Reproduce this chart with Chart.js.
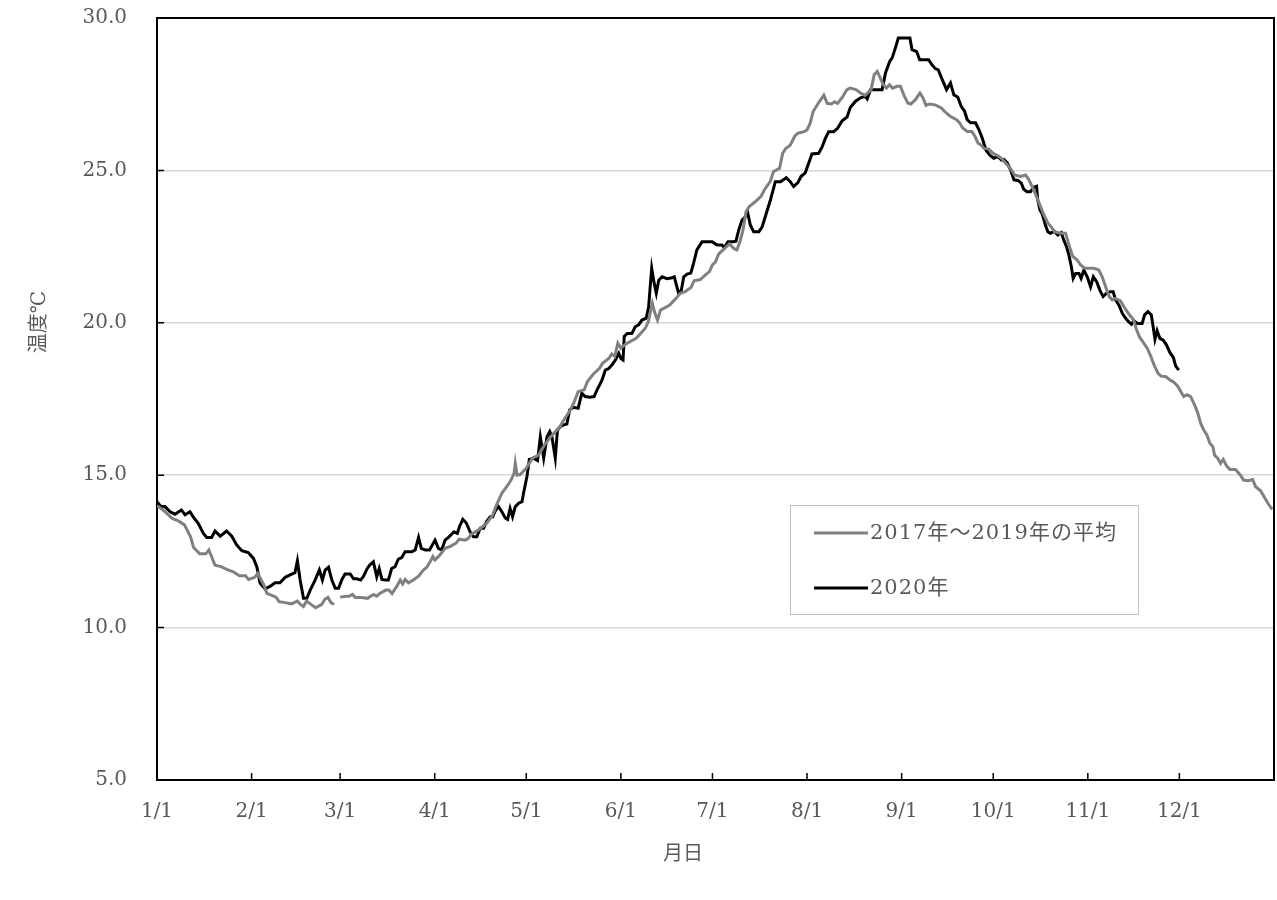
<!DOCTYPE html>
<html>
<head>
<meta charset="utf-8">
<script src="https://cdn.jsdelivr.net/npm/chart.js@4.4.1/dist/chart.umd.min.js"></script>
<style>
    body { margin: 0; background: #fff; }
    #wrap { width: 1277px; height: 900px; position: relative; }
</style>
</head>
<body>
<div id="wrap"><canvas id="tempChart"></canvas></div>
<script>
// day of year (0 = 1/1), month ticks
const monthStarts = [0, 31, 60, 91, 121, 152, 182, 213, 244, 274, 305, 335];
const monthLabels = ['1/1', '2/1', '3/1', '4/1', '5/1', '6/1', '7/1', '8/1', '9/1', '10/1', '11/1', '12/1'];

// 2017-2019 average (no 2/29 -> gap at day 59)
const avgDays = [0, 2, 5, 7, 9, 11, 12, 14, 16, 17, 18, 19, 21, 23, 25, 27, 29, 30, 32, 33, 35, 36, 39, 40, 42, 44, 46, 47, 48, 49, 51, 52, 54, 55, 56, 57, 58,
    59,
    60, 62, 63, 64, 65, 67, 69, 70, 71, 72, 73, 75, 76, 77, 78.6, 79.7, 80.5, 81.3, 82.4, 84, 85.7, 87.3, 88.4, 89.5, 90.4, 91.1, 92.5, 94.4, 96, 98, 99, 101, 102, 103, 105, 106, 108, 110, 111, 113, 115, 116, 117, 117.4, 118, 119, 121, 122, 123, 125, 127, 129, 132, 133, 135, 136.5, 138, 140, 141, 143, 145, 146, 148, 149, 150, 151, 152, 153.5, 155, 157, 158, 160, 161, 161.6, 162.3, 163, 164, 165, 166.5, 168, 170, 171.5, 173, 175, 176, 178, 180, 181, 182, 183, 184, 186, 187.6, 189, 190, 191, 192, 193, 194, 196, 198, 199, 201, 202, 204, 205, 206, 207.5, 209, 210, 212, 213, 214, 215, 217, 218.5, 219.6, 221, 222, 223, 224.5, 226, 227, 229, 230.5, 232, 234, 235, 236, 237, 238, 239, 240, 241, 242.5, 243.6, 244.7, 246, 247, 248.5, 250, 251, 252, 253, 255, 257, 258, 260, 262, 263, 264, 265.5, 267, 268, 269, 270, 271, 272.5, 274, 276, 277, 278.6, 280, 281, 283, 284.6, 285.7, 287, 288, 289.5, 290.6, 292, 293, 294, 296, 297.7, 299, 300, 301.5, 302.6, 304, 305, 307, 308.6, 309.7, 311, 312, 313, 314, 315.7, 317, 318.5, 320, 321, 322, 323, 324.5, 325.6, 326.7, 328, 329, 330.6, 332, 333, 334.4, 335.5, 336.4, 337.5, 338.7, 340, 341, 342, 343, 344, 345, 346, 346.5, 347.6, 348.5, 349.4, 350.5, 351.6, 353.4, 355, 356, 357.5, 359, 360, 361.6, 362.7, 364, 365.4];
const avgTemps = [14.0, 13.86, 13.58, 13.5, 13.37, 12.98, 12.63, 12.42, 12.42, 12.55, 12.3, 12.05, 12.0, 11.9, 11.83, 11.7, 11.7, 11.58, 11.65, 11.78, 11.4, 11.12, 11.0, 10.85, 10.82, 10.78, 10.87, 10.76, 10.69, 10.87, 10.72, 10.65, 10.76, 10.93, 10.99, 10.82, 10.76,
    null,
    11.0, 11.03, 11.03, 11.09, 10.99, 10.99, 10.96, 11.03, 11.09, 11.03, 11.12, 11.23, 11.23, 11.12, 11.36, 11.56, 11.43, 11.58, 11.47, 11.56, 11.69, 11.89, 11.98, 12.16, 12.33, 12.22, 12.36, 12.6, 12.66, 12.77, 12.9, 12.87, 12.93, 13.07, 13.18, 13.26, 13.42, 13.69, 13.97, 14.41, 14.68, 14.84, 15.06, 15.39, 15.0, 15.02, 15.23, 15.39, 15.56, 15.66, 16.0, 16.26, 16.59, 16.76, 17.07, 17.35, 17.74, 17.8, 18.07, 18.32, 18.51, 18.67, 18.83, 18.98, 18.9, 19.33, 19.17, 19.3, 19.38, 19.49, 19.6, 19.82, 20.04, 20.33, 20.64, 20.36, 20.09, 20.42, 20.5, 20.58, 20.8, 20.97, 21.02, 21.16, 21.38, 21.42, 21.6, 21.68, 21.9, 22.0, 22.25, 22.44, 22.59, 22.44, 22.39, 22.66, 23.04, 23.64, 23.81, 23.97, 24.16, 24.36, 24.65, 24.96, 25.07, 25.56, 25.72, 25.83, 26.13, 26.22, 26.27, 26.33, 26.54, 26.93, 27.25, 27.47, 27.2, 27.18, 27.25, 27.2, 27.39, 27.64, 27.7, 27.65, 27.54, 27.46, 27.65, 28.14, 28.25, 28.03, 27.81, 27.7, 27.81, 27.7, 27.76, 27.76, 27.48, 27.21, 27.18, 27.32, 27.54, 27.38, 27.13, 27.18, 27.15, 27.05, 26.94, 26.77, 26.66, 26.56, 26.39, 26.28, 26.28, 26.12, 25.9, 25.83, 25.72, 25.7, 25.56, 25.45, 25.36, 25.18, 25.01, 24.85, 24.8, 24.85, 24.69, 24.41, 24.19, 23.81, 23.54, 23.26, 23.15, 22.99, 22.94, 22.94, 22.5, 22.19, 22.06, 21.9, 21.79, 21.79, 21.79, 21.73, 21.51, 21.13, 20.86, 20.75, 20.8, 20.72, 20.5, 20.28, 20.09, 19.76, 19.52, 19.38, 19.16, 18.91, 18.62, 18.34, 18.25, 18.23, 18.12, 18.07, 17.93, 17.74, 17.58, 17.64, 17.58, 17.3, 17.05, 16.7, 16.48, 16.32, 16.05, 15.93, 15.66, 15.55, 15.39, 15.52, 15.3, 15.19, 15.19, 15.0, 14.84, 14.82, 14.86, 14.62, 14.49, 14.3, 14.08, 13.88];

// 2020
const days2020 = [0, 1.3, 2.6, 4.3, 5.9, 8, 9.2, 10.8, 11.8, 13.5, 15.2, 16.3, 17.9, 19, 20.7, 22.8, 24.5, 26.1, 27.8, 29.9, 31.6, 32.7, 33.8, 35.4, 37, 38.7, 40.3, 42, 43.6, 45.2, 46, 46.9, 48, 49.1, 50.2, 51.8, 53.2, 54.2, 55.1, 56.2, 57.3, 58.4, 59.5, 60.6, 61.6, 63.3, 64.4, 65.5, 66.7, 67.6, 68.9, 69.7, 70.9, 72, 72.8, 73.7, 74.8, 75.8, 76.9, 78, 79.1, 80.2, 81.3, 83.5, 84.6, 85.7, 86.6, 87.9, 89.3, 91.1, 92.2, 93.3, 94.4, 95.5, 96.6, 97.3, 98.4, 99.1, 100.2, 101.3, 102.6, 103.7, 104.8, 105.9, 107, 108, 109.2, 110, 111, 111.9, 113, 114.1, 114.9, 115.7, 116.5, 117.4, 118.5, 119.6, 120.1, 121.2, 122, 123.4, 124.7, 125.6, 126.7, 127.8, 128.7, 129.4, 130.5, 131.2, 132.1, 133.2, 134.3, 135.2, 136.4, 138, 139.2, 140.3, 141.9, 143.2, 144.2, 145.8, 146.9, 148, 149.1, 150.2, 151.3, 152, 152.7, 153.1, 154.1, 155.6, 156.7, 157.8, 158.9, 160.3, 161.1, 161.6, 162.1, 162.9, 163.6, 164.4, 165.5, 167.1, 168.8, 169.5, 170.2, 170.9, 171.8, 172.6, 173.7, 174.9, 175.8, 176.9, 178.6, 180.4, 181.9, 183.5, 185.1, 185.9, 187.1, 188.7, 189.7, 190.6, 191.7, 192.8, 193.5, 194.4, 195.5, 197.2, 198.3, 199.3, 201, 202.6, 204.3, 206.2, 207.5, 208.6, 210, 211, 212.4, 213.5, 214.6, 216.8, 217.9, 219, 220.1, 221.7, 223, 224.5, 226.1, 227.2, 228.9, 230.5, 232.1, 232.7, 233.8, 235.4, 237.6, 238.7, 240.1, 240.9, 242.1, 242.9, 244.9, 246.7, 247.4, 248.9, 249.9, 251.7, 252.8, 253.9, 255, 256, 257.3, 258.7, 260, 261.1, 262.4, 263.5, 264.6, 265.5, 266.6, 268.2, 269.3, 270.4, 271.6, 272.9, 274.2, 275.6, 276.7, 277.5, 278.6, 279.7, 280.8, 282.1, 283.2, 284, 285.1, 286.2, 287.3, 288.2, 288.6, 289.3, 290, 291.1, 291.9, 292.7, 294, 295.2, 296.3, 297.1, 298, 298.8, 299.6, 300.2, 301, 302.1, 302.8, 303.7, 304.8, 305.9, 306.8, 307.9, 308.9, 310, 311.1, 312.4, 313.3, 314.1, 315.2, 316.3, 317.4, 318.5, 319.3, 320.1, 321.2, 322.8, 323.6, 324.7, 325.8, 326.4, 327, 327.7, 328.6, 329.7, 330.8, 331.9, 333, 333.8, 334.8];
const temps2020 = [14.13, 13.97, 13.97, 13.8, 13.72, 13.86, 13.7, 13.8, 13.64, 13.42, 13.09, 12.96, 12.96, 13.17, 13.0, 13.17, 13.0, 12.71, 12.52, 12.46, 12.27, 12.0, 11.45, 11.27, 11.35, 11.47, 11.47, 11.65, 11.73, 11.8, 12.19, 11.56, 10.96, 10.96, 11.23, 11.56, 11.89, 11.56, 11.89, 11.98, 11.56, 11.29, 11.29, 11.58, 11.76, 11.76, 11.6, 11.6, 11.56, 11.67, 11.94, 12.05, 12.16, 11.67, 11.94, 11.58, 11.56, 11.56, 11.94, 12.0, 12.25, 12.3, 12.49, 12.49, 12.55, 12.96, 12.6, 12.55, 12.55, 12.87, 12.6, 12.55, 12.87, 12.96, 13.07, 13.14, 13.09, 13.31, 13.55, 13.44, 13.14, 12.98, 12.98, 13.26, 13.26, 13.48, 13.64, 13.64, 13.86, 13.97, 13.8, 13.6, 13.55, 13.91, 13.64, 13.97, 14.08, 14.13, 14.41, 14.95, 15.52, 15.56, 15.48, 16.26, 15.56, 16.26, 16.43, 16.26, 15.56, 16.48, 16.59, 16.65, 16.68, 17.14, 17.23, 17.2, 17.69, 17.58, 17.56, 17.58, 17.8, 18.12, 18.45, 18.5, 18.62, 18.78, 19.0, 18.83, 18.78, 19.55, 19.65, 19.65, 19.87, 19.93, 20.09, 20.15, 20.53, 21.18, 21.79, 21.3, 20.97, 21.4, 21.51, 21.45, 21.48, 21.51, 21.24, 20.97, 21.07, 21.51, 21.6, 21.63, 21.95, 22.39, 22.66, 22.66, 22.66, 22.55, 22.55, 22.47, 22.66, 22.66, 22.68, 23.04, 23.37, 23.48, 23.64, 23.21, 22.99, 22.99, 23.15, 23.48, 24.03, 24.63, 24.63, 24.76, 24.63, 24.47, 24.6, 24.8, 24.92, 25.23, 25.54, 25.56, 25.76, 26.05, 26.27, 26.27, 26.38, 26.63, 26.75, 27.07, 27.27, 27.38, 27.43, 27.35, 27.65, 27.65, 27.65, 28.2, 28.58, 28.69, 29.07, 29.34, 29.34, 29.34, 28.96, 28.9, 28.63, 28.63, 28.63, 28.47, 28.34, 28.3, 27.98, 27.65, 27.87, 27.48, 27.4, 27.1, 26.94, 26.66, 26.56, 26.56, 26.34, 26.06, 25.67, 25.5, 25.4, 25.45, 25.34, 25.36, 25.25, 25.01, 24.69, 24.67, 24.58, 24.38, 24.3, 24.3, 24.45, 24.48, 24.03, 23.7, 23.59, 23.21, 22.99, 22.94, 23.0, 22.88, 22.96, 22.72, 22.5, 22.22, 21.84, 21.46, 21.62, 21.62, 21.46, 21.73, 21.51, 21.18, 21.51, 21.35, 21.08, 20.86, 20.97, 21.02, 21.02, 20.75, 20.58, 20.31, 20.15, 20.02, 19.95, 20.07, 19.98, 19.98, 20.26, 20.37, 20.26, 19.87, 19.46, 19.74, 19.49, 19.43, 19.27, 19.02, 18.87, 18.58, 18.45];

const seriesLabels = ['2017年～2019年の平均', '2020年'];
const yTitle = '温度℃';
const xTitle = '月日';

const FONT = '"DejaVu Serif", "Noto Sans CJK JP", serif';
const TEXT_COLOR = '#595959';

function toPoints(xs, ys) {
    return xs.map((x, i) => ({ x: x, y: ys[i] }));
}

// axis titles, inner tick marks, box border and legend
const decorations = {
    id: 'decorations',
    afterDraw(chart) {
        const ctx = chart.ctx;
        const area = chart.chartArea;
        const xs = chart.scales.x;
        const ys = chart.scales.y;
        ctx.save();

        // top and right border
        ctx.strokeStyle = '#000';
        ctx.lineWidth = 2;
        ctx.beginPath();
        ctx.moveTo(area.left, area.top);
        ctx.lineTo(area.right, area.top);
        ctx.lineTo(area.right, area.bottom);
        ctx.stroke();

        // inner tick marks
        ctx.lineWidth = 1.5;
        ctx.beginPath();
        ys.ticks.forEach(t => {
            const y = ys.getPixelForValue(t.value);
            ctx.moveTo(area.left, y);
            ctx.lineTo(area.left + 7, y);
        });
        monthStarts.forEach(d => {
            const x = xs.getPixelForValue(d);
            ctx.moveTo(x, area.bottom);
            ctx.lineTo(x, area.bottom - 7);
        });
        ctx.stroke();

        // axis titles
        ctx.fillStyle = TEXT_COLOR;
        ctx.font = '20px ' + FONT;
        ctx.textAlign = 'center';
        ctx.textBaseline = 'middle';
        ctx.fillText(xTitle, 683, 855);
        ctx.save();
        ctx.translate(40, 322);
        ctx.rotate(-Math.PI / 2);
        ctx.fillText(yTitle, 0, 0);
        ctx.restore();

        // legend
        ctx.strokeStyle = '#bfbfbf';
        ctx.lineWidth = 1;
        ctx.strokeRect(790.5, 505.5, 348, 109);
        const rows = [533, 588];
        ctx.font = '21px ' + FONT;
        ctx.letterSpacing = '1px';
        chart.data.datasets.forEach((ds, i) => {
            ctx.strokeStyle = ds.borderColor;
            ctx.lineWidth = 3;
            ctx.beginPath();
            ctx.moveTo(814, rows[i]);
            ctx.lineTo(868, rows[i]);
            ctx.stroke();
            ctx.fillStyle = TEXT_COLOR;
            ctx.textAlign = 'left';
            ctx.fillText(ds.label, 870, rows[i] + 1);
        });
        ctx.restore();
    }
};

new Chart(document.getElementById('tempChart').getContext('2d'), {
    type: 'line',
    data: {
        datasets: [
            {
                label: seriesLabels[0],
                data: toPoints(avgDays, avgTemps),
                borderColor: '#808080',
                borderWidth: 3,
                pointRadius: 0,
                tension: 0,
                spanGaps: false
            },
            {
                label: seriesLabels[1],
                data: toPoints(days2020, temps2020),
                borderColor: '#000000',
                borderWidth: 3,
                pointRadius: 0,
                tension: 0
            }
        ]
    },
    options: {
        responsive: true,
        maintainAspectRatio: false,
        animation: false,
        devicePixelRatio: 1,
        layout: { padding: { left: 0, right: 3, top: 18, bottom: 0 } },
        plugins: {
            legend: { display: false },
            tooltip: { enabled: false }
        },
        scales: {
            x: {
                type: 'linear',
                min: 0,
                max: 366,
                afterBuildTicks: scale => {
                    scale.ticks = monthStarts.map(v => ({ value: v }));
                },
                afterFit: scale => {
                    scale.height = 120;
                    scale.paddingLeft = 0;
                    scale.paddingRight = 0;
                },
                grid: { display: false, drawTicks: false },
                border: { display: true, color: '#000', width: 2 },
                ticks: {
                    autoSkip: false,
                    maxRotation: 0,
                    padding: 20,
                    color: TEXT_COLOR,
                    font: { family: FONT, size: 20 },
                    callback: (value, index) => monthLabels[index]
                }
            },
            y: {
                min: 5,
                max: 30,
                afterFit: scale => {
                    scale.width = 157;
                    scale.paddingTop = 0;
                    scale.paddingBottom = 0;
                },
                grid: { color: '#d9d9d9', lineWidth: 1.5, drawTicks: false },
                border: { display: true, color: '#000', width: 2 },
                ticks: {
                    stepSize: 5,
                    padding: 30,
                    color: TEXT_COLOR,
                    font: { family: FONT, size: 20 },
                    callback: value => value.toFixed(1)
                }
            }
        }
    },
    plugins: [decorations]
});
</script>
</body>
</html>
